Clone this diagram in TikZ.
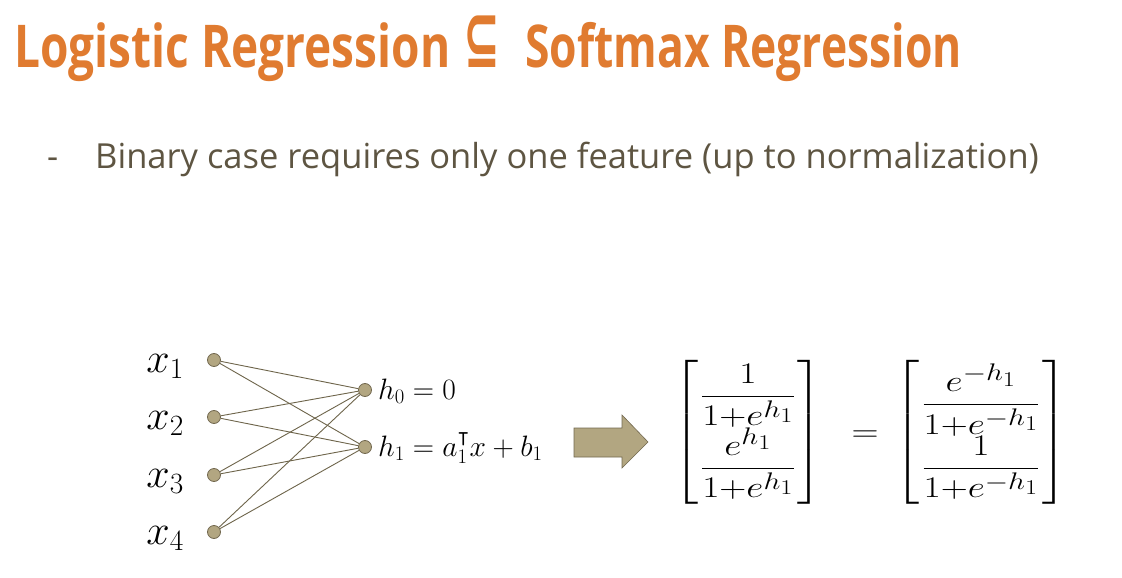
\RequirePackage{fix-cm}
\documentclass[tikz,border=0pt]{standalone}
\usepackage{amsmath,amssymb}
\usepackage[no-math]{fontspec}
\setmainfont{Open Sans}
\newfontfamily\titlefont[FakeStretch=0.78]{Open Sans}
\newfontfamily\symfont{DejaVu Sans}
\DeclareMathSizes{30}{30}{24}{21}
\definecolor{titleorange}{HTML}{E07B30}
\definecolor{bodytext}{HTML}{5E5542}
\definecolor{nodefill}{HTML}{B2A681}
\definecolor{nodeline}{HTML}{736950}
\definecolor{edgecol}{HTML}{6E654B}
\begin{document}
\begin{tikzpicture}[x=1pt,y=-1pt,
  neuron/.style={circle,draw=nodeline,fill=nodefill,line width=0.8pt,minimum size=13pt,inner sep=0pt},
  edge/.style={draw=edgecol,line width=0.9pt},
  titletext/.style={anchor=base west,inner sep=0pt,text=titleorange,font=\titlefont\bfseries\fontsize{59}{66}\selectfont},
  bodystyle/.style={anchor=base west,inner sep=0pt,text=bodytext,font=\fontsize{34.5}{40}\selectfont},
  xlab/.style={anchor=base east,inner sep=0pt,font=\fontsize{42}{48}\selectfont},
  hlab/.style={anchor=base west,inner sep=0pt,font=\fontsize{29.5}{34}\selectfont},
  matnode/.style={inner sep=0pt,font=\fontsize{30}{35}\selectfont}]
\useasboundingbox[fill=white] (0,0) rectangle (1122,578);
% title
\node[titletext] (title1) at (14,68) {Logistic Regression};
\node[anchor=base west,inner sep=0pt,text=titleorange,font=\symfont\bfseries\fontsize{56}{60}\selectfont] (subs) at (463,67) {\scalebox{0.78}[1.45]{⊆}};
\node[titletext] (title2) at (525,68) {\scalebox{0.965}[1]{Softmax Regression}};
% bullet
\node[bodystyle] (dash) at (47,168) {-};
\node[bodystyle] (bullet) at (95,168)
  {Binary case requires only one feature (up to normalization)};
% network
\node[neuron] (x1) at (214,360) {};
\node[neuron] (x2) at (214,417) {};
\node[neuron] (x3) at (214,475) {};
\node[neuron] (x4) at (214,532) {};
\node[neuron] (h0) at (365,390) {};
\node[neuron] (h1) at (365,447) {};
\foreach \i in {1,2,3,4}{
  \draw[edge] (x\i) -- (h0);
  \draw[edge] (x\i) -- (h1);
}
\node[xlab] (lx1) at (184,372) {$x_1$};
\node[xlab] (lx2) at (184,429) {$x_2$};
\node[xlab] (lx3) at (184,487) {$x_3$};
\node[xlab] (lx4) at (184,544) {$x_4$};
\node[hlab] (lh0) at (378,399) {$h_0=0$};
\node[hlab] (lh1) at (378,456) {$h_1=a_1^{\intercal}x+b_1$};
% block arrow
\draw[draw=nodeline,fill=nodefill,line width=0.6pt] (574,428) -- (622,428) -- (622,415) -- (648,442) -- (622,468) -- (622,457) -- (574,457) -- cycle;
\coordinate (arrowtip) at (648,442);
% matrices
\node[matnode] (lmat) at (748,432) {\scalebox{1.25}[1]{$\left[\begin{matrix}\hskip2pt\dfrac{1}{1{+}e^{h_1}}\hskip2pt\\[8pt] \hskip2pt\dfrac{e^{h_1}}{1{+}e^{h_1}}\hskip2pt\end{matrix}\right]$}};
\node[matnode] (eq) at (865,436) {\scalebox{1.25}[1]{$=$}};
\node[matnode] (rmat) at (981,432) {\scalebox{1.25}[1]{$\left[\begin{matrix}\hskip2pt\dfrac{e^{-h_1}}{1{+}e^{-h_1}}\hskip2pt\\[8pt] \hskip2pt\dfrac{1}{1{+}e^{-h_1}}\hskip2pt\end{matrix}\right]$}};
\end{tikzpicture}
\end{document}
